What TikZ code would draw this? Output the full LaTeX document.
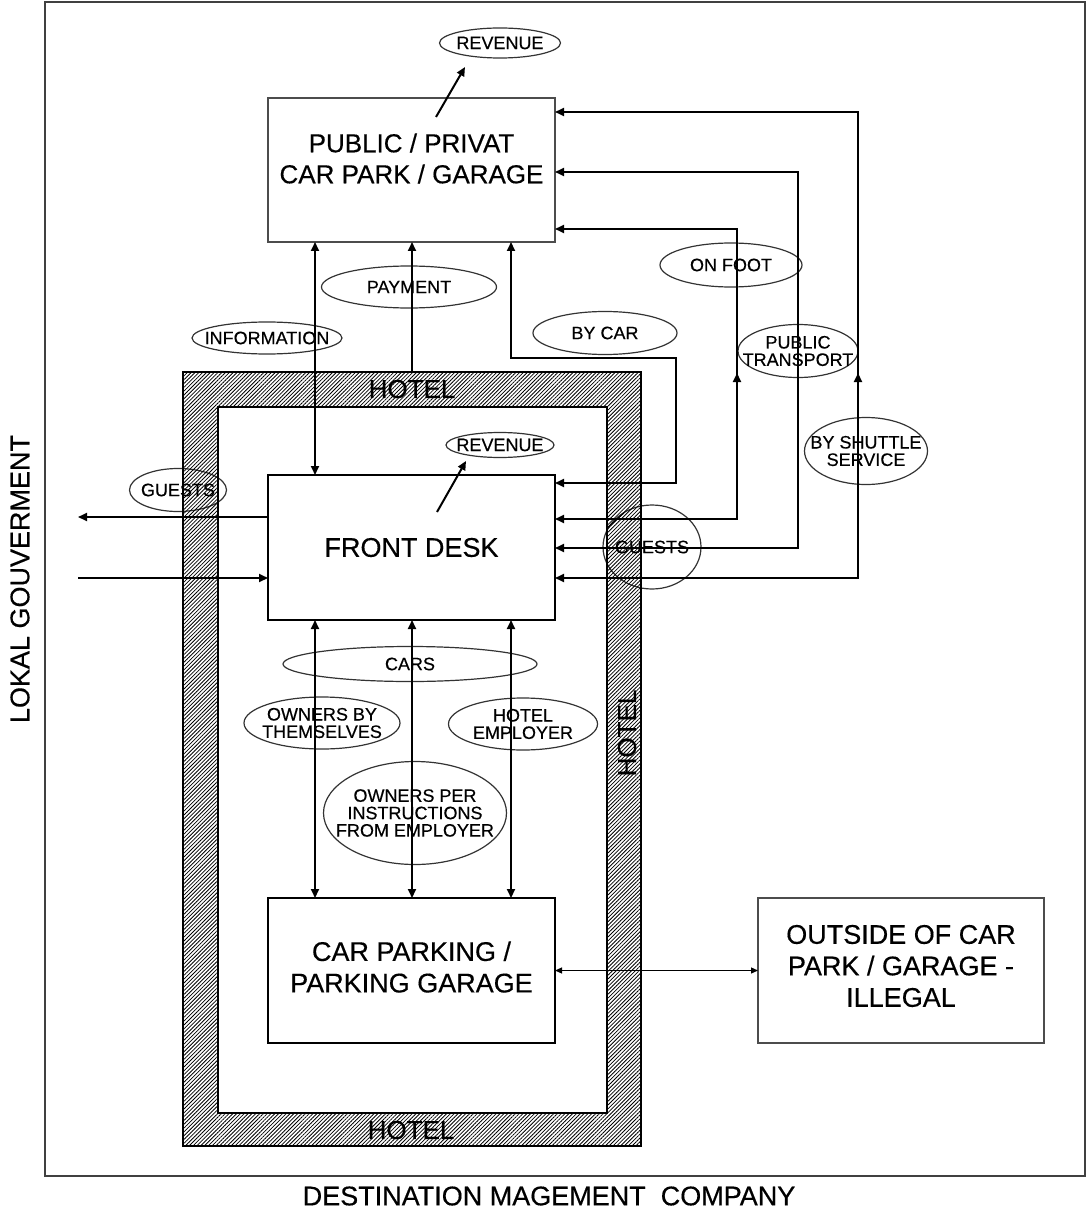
\documentclass[tikz,border=0pt]{standalone}
\usepackage{fontspec}
\setmainfont{Liberation Sans}[FakeBold=0.4]
\usetikzlibrary{shapes.geometric,arrows.meta,patterns.meta,calc}
\newcommand\mkell[5]{%
  \node[ellsh, minimum width=#3, minimum height=#4] (#1) at (#2) {};
  \node[etxt] (#1t) at (#1) {#5};}
\begin{document}
\begin{tikzpicture}[x=0.5pt,y=-0.5pt,
  every node/.style={inner sep=0pt, outer sep=0pt},
  box/.style={draw, line width=1.2pt, minimum width=143.5pt, minimum height=72.5pt},
  lbox/.style={draw=black!70, line width=0.8pt, minimum width=143.5pt, minimum height=72pt},
  bigtxt/.style={font=\fontsize{13.5}{15.75}\selectfont, align=center},
  ellsh/.style={ellipse, draw=black!80, line width=0.6pt},
  etxt/.style={font=\fontsize{9}{8.7}\selectfont, align=center},
  arr/.style={line width=1pt, -{Triangle[length=4.5pt,width=4pt]}},
  darr/.style={line width=1pt, {Triangle[length=4.5pt,width=4pt]}-{Triangle[length=4.5pt,width=4pt]}},
  tarr/.style={line width=0.6pt, {Triangle[length=3.5pt,width=3pt]}-{Triangle[length=3.5pt,width=3pt]}},
]
\useasboundingbox (0,0) rectangle (1086,1209);

% outer frame and its labels
\node[draw=black!75, line width=1pt, minimum width=520pt, minimum height=587pt] (dmc) at (565,589) {};
\node[bigtxt] (dmclab) at (549,1196) {DESTINATION MAGEMENT\ \ COMPANY};
\node[bigtxt, rotate=90] (lglab) at (20,579) {LOKAL GOUVERMENT};

% ellipses overlapped by the hotel band
\mkell{guestsL}{178,490}{48.5pt}{21.5pt}{GUESTS}
\mkell{guestsR}{652,547}{49pt}{42pt}{GUESTS}

% hotel band
\node[minimum width=229pt, minimum height=387pt] (hotel) at (412,759) {};
\node[minimum width=194.5pt, minimum height=353pt] (hotelin) at (412.5,760) {};
\fill[pattern={Lines[angle=45,distance=1.35pt,line width=0.4pt]}, even odd rule]
  (hotel.north west) rectangle (hotel.south east)
  (hotelin.north west) rectangle (hotelin.south east);
\draw[line width=1.3pt] (hotel.north west) rectangle (hotel.south east);
\draw[line width=0.8pt] (hotelin.north west) rectangle (hotelin.south east);
\node[bigtxt, font=\fontsize{13}{15}\selectfont] (h1) at (412,389) {HOTEL};
\node[bigtxt, font=\fontsize{13}{15}\selectfont] (h2) at (411,1130) {HOTEL};
\node[bigtxt, font=\fontsize{13}{15}\selectfont, rotate=90] (h3) at (627,733) {HOTEL};

% boxes
\node[lbox] (top) at (411.5,170) {};
\node[bigtxt, font=\fontsize{13}{15.5}\selectfont] (toptxt) at (411.5,158.5) {PUBLIC / PRIVAT\\CAR PARK / GARAGE};
\node[box, bigtxt] (fd) at (411.5,547.5) {FRONT DESK};
\node[box] (cp) at (411.5,970.5) {};
\node[bigtxt] (cptxt) at (411.5,967) {CAR PARKING /\\PARKING GARAGE};
\node[lbox, minimum width=143pt, minimum height=72.5pt] (out) at (901,970.5) {};
\node[bigtxt] (outtxt) at (901,966) {OUTSIDE OF CAR\\PARK / GARAGE -\\ILLEGAL};

% other ellipses
\mkell{revTop}{500,43}{60.5pt}{15pt}{REVENUE}
\mkell{revIn}{500,445}{54pt}{12.5pt}{REVENUE}
\mkell{info}{267,338}{75pt}{16pt}{INFORMATION}
\mkell{payment}{409,287}{87.5pt}{21pt}{PAYMENT}
\mkell{bycar}{605,333}{72pt}{21.5pt}{BY CAR}
\mkell{onfoot}{731,265}{71pt}{22pt}{ON FOOT}
\mkell{pubtrans}{798,351}{60pt}{26.5pt}{PUBLIC\\TRANSPORT}
\mkell{shuttle}{866,451}{61.5pt}{33.5pt}{BY SHUTTLE\\SERVICE}
\mkell{cars}{410,664}{127pt}{17.5pt}{CARS}
\mkell{ownersBy}{322,723}{78pt}{26pt}{OWNERS BY\\THEMSELVES}
\mkell{hotelEmp}{523,724}{74.5pt}{26pt}{HOTEL\\EMPLOYER}
\mkell{ownersPer}{415,813}{91.5pt}{51.5pt}{OWNERS PER\\INSTRUCTIONS\\FROM EMPLOYER}

% coordinates
\coordinate (xa) at (315,0);
\coordinate (xb) at (412,0);
\coordinate (xc) at (511,0);
\coordinate (bc1) at (676,358);
\coordinate (bc2) at (676,483);
\coordinate (of1) at (737,229);
\coordinate (of2) at (737,519);
\coordinate (of3) at (737,373);
\coordinate (pt1) at (798,172);
\coordinate (pt2) at (798,548);
\coordinate (sh1) at (858,112);
\coordinate (sh2) at (858,578);
\coordinate (sh3) at (858,373);
\coordinate (gl1) at (78,517);
\coordinate (gl2) at (78,578);
\coordinate (rv1) at (436,117);
\coordinate (rv2) at (465,67);
\coordinate (rv3) at (437,512);
\coordinate (rv4) at (466,461);
\coordinate (gs1) at (608,527);
\coordinate (gs2) at (624,513);

% connectors between top box and front desk
\draw[darr] (top.south -| xa) -- (fd.north -| xa);
\draw[arr] (hotel.north -| xb) -- (top.south -| xb);
\draw[darr] (top.south -| xc) |- (bc1) -- (bc2) -- (fd.east |- bc2);
\draw[darr] (top.east |- of1) -- (of1) -- (of2) -- (fd.east |- of2);
\draw[arr] ([yshift=-6pt]of3) -- (of3);
\draw[darr] (top.east |- pt1) -- (pt1) -- (pt2) -- (fd.east |- pt2);
\draw[darr] (top.east |- sh1) -- (sh1) -- (sh2) -- (fd.east |- sh2);
\draw[arr] ([yshift=-6pt]sh3) -- (sh3);

% guests to the left
\draw[arr] (fd.west |- gl1) -- (gl1);
\draw[arr] (gl2) -- (fd.west |- gl2);

% revenue arrows
\draw[arr] (rv1) -- (rv2);
\draw[arr] (rv3) -- (rv4);
\draw[line width=0.5pt] (gs1) -- (gs2);

% front desk to car parking
\draw[darr] (fd.south -| xa) -- (cp.north -| xa);
\draw[darr] (fd.south -| xb) -- (cp.north -| xb);
\draw[darr] (fd.south -| xc) -- (cp.north -| xc);

% car parking to outside
\draw[tarr] (cp.east) -- (out.west);
\end{tikzpicture}
\end{document}
